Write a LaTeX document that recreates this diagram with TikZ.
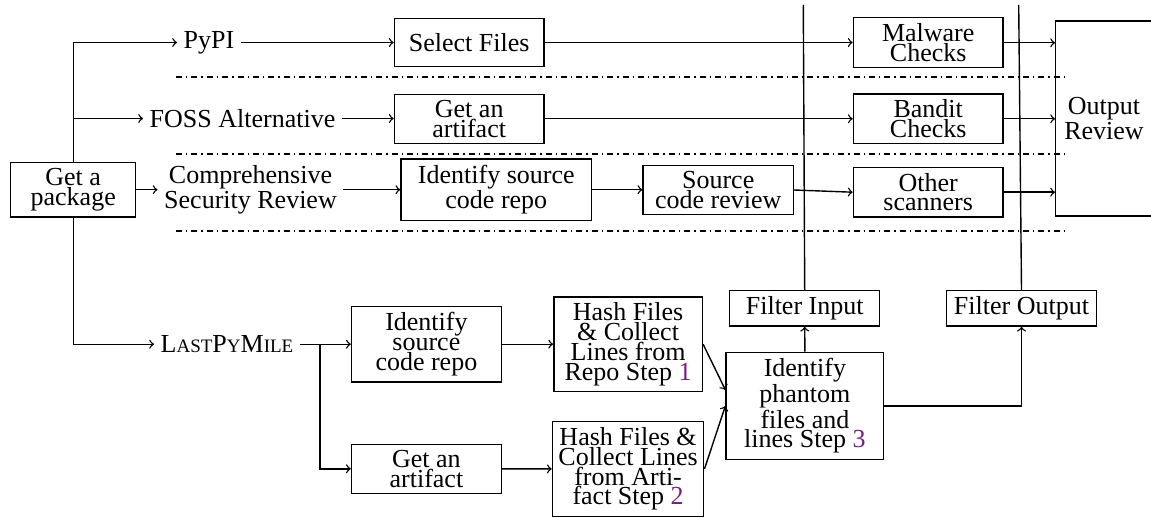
\documentclass[tikz,border=0pt]{standalone}
\usepackage{fontspec}
\setmainfont{Liberation Serif}
\usetikzlibrary{calc}
\definecolor{stepcol}{RGB}{120,30,130}
\newcommand{\fakesc}[1]{{\fontsize{9.5pt}{9.85pt}\selectfont #1}}
\begin{document}
\begin{tikzpicture}[x=0.5pt,y=-0.5pt,line width=0.7pt,
  every node/.style={font=\fontsize{13pt}{9.85pt}\selectfont},
  box/.style={draw, inner sep=3pt, align=center},
  lbl/.style={inner sep=3pt, align=center},
  conn/.style={->},
  sepline/.style={dash dot, line width=0.6pt}]
\useasboundingbox (0,0) rectangle (1151,518);

% separators
\coordinate (s1a) at (176,77);  \coordinate (s1b) at (1065,77);
\coordinate (s2a) at (176,154); \coordinate (s2b) at (1065,154);
\coordinate (s3a) at (176,231); \coordinate (s3b) at (1065,231);
\draw[sepline] (s1a) -- (s1b);
\draw[sepline] (s2a) -- (s2b);
\draw[sepline] (s3a) -- (s3b);

% left
\node[box, minimum width=62.5pt] (pkg) at (73.2,189.7) {Get a\\package};
\node[lbl] (pypi) at (209,42.5) {PyPI};
\node[lbl] (foss) at (242.5,118.5) {FOSS Alternative};
\node[lbl] (comp) at (250.5,189.7) {Comprehensive\\Security Review};
\node[lbl] (lpm) at (227,344.2) {L\fakesc{AST}P\fakesc{Y}M\fakesc{ILE}};

% top rows
\node[box, minimum width=74.85pt, minimum height=24.2pt] (sel) at (469.2,42.5) {Select Files};
\node[box, minimum width=74.85pt, minimum height=24.2pt] (art1) at (469.2,118.8) {Get an\\artifact};
\node[box, minimum width=95.35pt] (isr1) at (496.3,189.7) {Identify source\\code repo};
\node[box, minimum width=75.15pt, minimum height=24.2pt] (scr) at (718.2,190) {Source\\code review};
\node[box, minimum width=74.85pt, minimum height=24.2pt] (mal) at (928.2,42.8) {Malware\\Checks};
\node[box, minimum width=74.85pt, minimum height=24.2pt] (ban) at (928.2,118.8) {Bandit\\Checks};
\node[box, minimum width=74.85pt, minimum height=24.2pt] (oth) at (928.2,192.2) {Other\\scanners};
\node[box, minimum width=48.3pt, minimum height=97.5pt] (out) at (1104,118.5) {Output\\Review};

% bottom
\node[box, minimum width=74.9pt] (isr2) at (426.4,344.2) {Identify\\source\\code repo};
\node[box, minimum width=74.9pt, minimum height=24.2pt] (art2) at (426.4,468.8) {Get an\\artifact};
\node[box, minimum width=74.3pt] (h1) at (628.1,344.2) {Hash Files\\\& Collect\\Lines from\\Repo Step \textcolor{stepcol}{1}};
\node[box, minimum width=74.3pt] (h2) at (628.1,468.9) {Hash Files \&\\Collect Lines\\from Arti-\\fact Step \textcolor{stepcol}{2}};
\node[box, minimum width=78.8pt] (ph) at (804.9,405.9) {Identify\\phantom\\files and\\lines Step \textcolor{stepcol}{3}};
\node[box, minimum width=75pt] (fin) at (804.7,308.3) {Filter Input};
\node[box, minimum width=75pt] (fout) at (1021.5,308.3) {Filter Output};

\coordinate (t1) at (803.3,5);
\coordinate (t2) at (1018.7,5);
\coordinate (br) at ($(lpm.east)!0.39!(isr2.west)$);

% connectors from package
\draw[conn] (pkg.north) |- (pypi.west);
\draw[conn] (pkg.north) |- (foss.west);
\draw[conn] (pkg.east) -- (comp.west);
\draw[conn] (pkg.south) |- (lpm.west);

% top connectors
\draw[conn] (pypi.east) -- (pypi.east -| sel.west);
\draw[conn] (foss.east) -- (foss.east -| art1.west);
\draw[conn] (comp.east) -- (comp.east -| isr1.west);
\draw[conn] (sel.east) -- (sel.east -| mal.west);
\draw[conn] (art1.east) -- (art1.east -| ban.west);
\draw[conn] (isr1.east) -- (isr1.east -| scr.west);
\draw[conn] (scr.east) -- (oth.west);
\draw[conn] (mal.east) -- (mal.east -| out.west);
\draw[conn] (ban.east) -- (ban.east -| out.west);
\draw[conn] (oth.east) -- (oth.east -| out.west);

% bottom connectors
\draw[conn] (lpm.east) -- (isr2.west);
\draw[conn] (br) |- (art2.west);
\draw[conn] (isr2.east) -- (h1.west);
\draw[conn] (art2.east) -- (h2.west);
\draw[conn] (h1.east) -- ($(ph.west)+(0,-16)$);
\draw[conn] (h2.east) -- (ph.west);
\draw[conn] (ph.north) -- (fin.south);
\draw[conn] (ph.east) -| (fout.south);
\draw (fin.north) -- (t1);
\draw (fout.north) -- (t2);
\end{tikzpicture}
\end{document}
